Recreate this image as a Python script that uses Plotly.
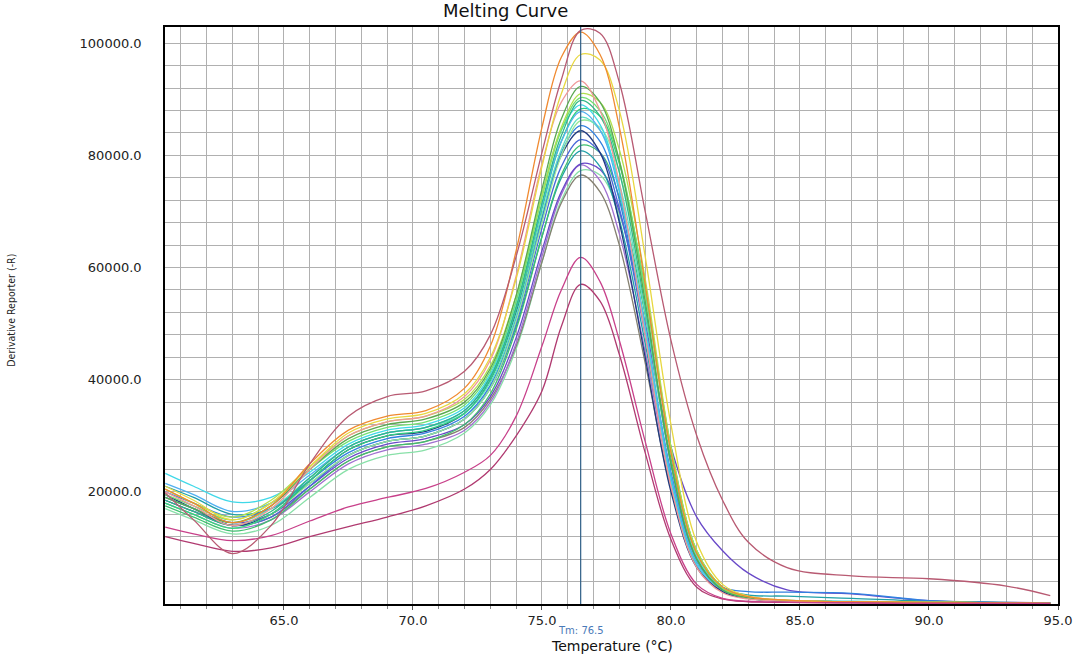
import plotly.graph_objects as go

# Temperature sample points (°C)
TEMPS = [60.4, 61.5, 63.0, 64.5, 66.0, 67.5, 69.0, 70.5, 72.0, 73.0, 74.0, 75.0,
         75.75, 76.5, 77.25, 78.0, 79.0, 80.0, 81.0, 82.0, 83.0, 84.5, 87.0, 90.0,
         93.0, 94.7]

# Derivative reporter values (in thousands)
maroon = [19.8, 15.0, 9.0, 14.0, 25.0, 33.5, 37.0, 38.0, 41.5, 48.0, 62.0, 80.5,
          93.5, 102.3, 101.8, 93.0, 70.0, 47.0, 30.0, 18.5, 11.0, 6.5, 5.0, 4.5, 3.2, 1.5]
orange = [20.5, 18.0, 14.5, 17.5, 25.0, 31.0, 33.5, 34.5, 38.5, 46.0, 63.0, 85.0,
          97.5, 102.0, 98.0, 85.0, 57.0, 27.0, 9.0, 3.0, 1.3, 0.7, 0.4, 0.3, 0.2, 0.1]
yellow = [21.0, 18.5, 15.0, 18.0, 24.5, 30.5, 33.0, 34.0, 37.5, 44.0, 58.0, 78.0,
          91.0, 98.0, 97.0, 88.0, 62.0, 32.0, 11.0, 3.5, 1.4, 0.7, 0.4, 0.3, 0.2, 0.1]
salmon = [20.0, 17.5, 14.0, 17.0, 24.0, 30.0, 32.5, 33.5, 37.0, 43.5, 58.5, 78.5,
          89.5, 93.3, 88.0, 75.0, 48.0, 21.0, 6.5, 2.0, 0.9, 0.5, 0.3, 0.2, 0.1, 0.1]
olive = [19.0, 17.0, 14.5, 17.5, 24.0, 29.5, 32.0, 33.0, 36.0, 42.0, 55.0, 74.0,
         86.5, 92.3, 89.5, 79.0, 54.0, 25.0, 8.0, 2.5, 1.1, 0.6, 0.4, 0.3, 0.2, 0.1]
yellowgreen = [20.5, 18.0, 15.5, 18.5, 24.5, 30.0, 32.5, 33.5, 36.5, 42.5, 55.0, 73.0,
               85.0, 91.0, 89.5, 81.0, 58.0, 28.0, 9.5, 3.0, 1.2, 0.6, 0.4, 0.3, 0.2, 0.1]
lime = [19.5, 17.5, 15.0, 18.0, 24.0, 29.0, 31.5, 32.5, 35.5, 41.5, 54.0, 72.5,
        84.5, 90.3, 88.0, 79.0, 56.0, 27.5, 9.0, 2.8, 1.1, 0.6, 0.4, 0.3, 0.2, 0.1]
tealgreen = [18.5, 16.5, 14.0, 16.5, 22.5, 28.0, 30.5, 31.5, 34.5, 40.5, 53.0, 71.5,
             83.5, 89.8, 87.0, 77.0, 53.0, 25.0, 8.0, 2.5, 1.0, 0.5, 0.3, 0.2, 0.1, 0.1]
cyan = [23.3, 21.0, 18.2, 19.0, 23.5, 28.5, 31.0, 32.0, 35.0, 41.0, 54.0, 73.0,
        84.5, 89.0, 85.5, 74.0, 49.0, 22.0, 7.0, 2.5, 1.2, 0.7, 0.5, 0.3, 0.2, 0.1]
skyblue = [21.5, 19.5, 16.5, 18.0, 23.0, 28.0, 30.5, 31.5, 34.5, 40.5, 53.0, 71.0,
           82.5, 87.8, 84.5, 73.5, 49.5, 23.0, 7.5, 2.5, 1.1, 0.6, 0.4, 0.3, 0.2, 0.1]
springgreen = [18.0, 16.0, 13.5, 16.0, 22.0, 27.5, 30.0, 31.0, 34.0, 40.0, 52.5, 70.5,
               82.5, 88.3, 87.0, 78.5, 56.0, 28.0, 9.5, 3.0, 1.2, 0.6, 0.4, 0.3, 0.2, 0.1]
aquamarine = [19.0, 17.0, 14.5, 17.0, 22.5, 28.0, 30.5, 31.5, 34.0, 39.5, 51.5, 69.5,
              81.0, 86.8, 84.5, 75.0, 52.0, 25.0, 8.5, 2.7, 1.1, 0.6, 0.4, 0.3, 0.2, 0.1]
lightgreen = [18.0, 16.0, 13.5, 16.0, 21.5, 26.5, 29.0, 30.0, 33.0, 38.5, 50.5, 68.0,
              80.0, 86.2, 85.0, 77.0, 55.0, 27.0, 9.5, 3.0, 1.2, 0.6, 0.4, 0.3, 0.2, 0.1]
blue = [20.0, 18.0, 15.5, 17.0, 22.0, 27.0, 29.5, 30.5, 33.5, 39.0, 51.0, 68.5,
        80.5, 85.3, 82.5, 72.0, 49.0, 23.5, 8.0, 3.0, 2.2, 2.1, 1.9, 0.6, 0.2, 0.1]
navy = [19.5, 17.0, 14.0, 16.0, 22.0, 27.5, 30.0, 30.8, 34.0, 40.0, 52.0, 69.0,
        80.0, 84.4, 80.5, 68.0, 44.0, 20.0, 6.5, 2.2, 1.0, 0.6, 0.4, 0.25, 0.15, 0.1]
mediumblue = [18.5, 16.5, 14.0, 15.5, 21.0, 26.5, 29.0, 30.0, 33.0, 38.5, 50.0, 67.0,
              78.0, 82.8, 80.5, 70.5, 48.0, 23.0, 7.8, 2.5, 1.1, 0.6, 0.4, 0.3, 0.2, 0.1]
green = [17.5, 15.5, 13.0, 15.0, 20.5, 25.5, 28.0, 29.0, 32.0, 37.5, 49.0, 65.5,
         76.5, 81.8, 80.5, 72.5, 51.5, 26.0, 9.0, 3.0, 1.2, 0.6, 0.4, 0.3, 0.2, 0.1]
seateal = [21.0, 19.0, 16.0, 17.0, 21.5, 26.5, 29.0, 30.0, 33.0, 38.5, 49.5, 65.5,
           76.0, 80.8, 78.0, 68.5, 46.5, 22.5, 7.5, 2.8, 1.6, 1.4, 1.0, 0.5, 0.3, 0.1]
purple = [19.0, 17.0, 14.5, 16.0, 21.0, 26.0, 28.5, 29.5, 32.0, 37.0, 47.5, 63.0,
          73.5, 78.5, 77.5, 70.0, 50.0, 28.0, 15.5, 9.5, 5.5, 2.5, 1.8, 0.6, 0.3, 0.2]
violet = [18.0, 16.0, 13.5, 15.0, 20.0, 25.0, 27.5, 28.5, 31.0, 36.0, 46.5, 62.0,
          73.0, 78.3, 75.5, 66.0, 45.0, 21.5, 7.0, 2.3, 1.0, 0.5, 0.3, 0.2, 0.1, 0.1]
grayolive = [18.5, 16.5, 14.0, 15.5, 20.5, 25.5, 28.0, 29.0, 31.5, 36.5, 46.0, 61.0,
             71.5, 76.5, 73.5, 64.0, 43.0, 20.5, 6.8, 2.2, 1.0, 0.5, 0.3, 0.2, 0.1, 0.1]
palegreen = [17.0, 15.0, 12.5, 14.0, 19.0, 24.0, 26.5, 27.5, 30.5, 35.5, 45.5, 61.0,
             72.0, 77.3, 76.5, 69.5, 50.0, 25.5, 9.0, 3.0, 1.2, 0.6, 0.4, 0.3, 0.2, 0.1]
pink_a = [13.7, 12.5, 11.3, 12.2, 14.8, 17.3, 19.0, 20.6, 23.5, 26.5, 33.5, 46.0,
          56.0, 61.8, 57.5, 47.0, 29.0, 12.5, 3.5, 1.0, 0.5, 0.3, 0.2, 0.1, 0.1, 0.1]
pink_b = [12.0, 10.8, 9.4, 10.0, 12.0, 13.8, 15.5, 17.5, 20.5, 24.0, 30.0, 38.0,
          49.5, 57.0, 54.0, 44.5, 27.0, 11.5, 3.0, 0.9, 0.4, 0.3, 0.2, 0.1, 0.1, 0.1]

CURVES = [
    (palegreen, "#88e0a8"), (grayolive, "#858070"), (violet, "#a070d0"),
    (purple, "#6848c8"), (seateal, "#20a0a8"), (green, "#40c070"),
    (mediumblue, "#4868d8"), (navy, "#203a80"), (blue, "#3080e0"),
    (lightgreen, "#98e898"), (aquamarine, "#60e0c0"), (springgreen, "#30d080"),
    (skyblue, "#50b0f0"), (cyan, "#40d8e8"), (tealgreen, "#30b888"),
    (lime, "#70e070"), (yellowgreen, "#b0e050"), (olive, "#5aa850"),
    (salmon, "#f09898"), (yellow, "#e8d840"), (orange, "#f08a30"),
    (pink_b, "#b03a70"), (pink_a, "#c8408a"), (maroon, "#b85a72"),
]

TM_VALUE = 76.5
X_TICKS = [65, 70, 75, 80, 85, 90, 95]
Y_TICKS = [20000, 40000, 60000, 80000, 100000]

fig = go.Figure()
for values, color in CURVES:
    fig.add_trace(go.Scatter(
        x=TEMPS, y=[v * 1000 for v in values], mode="lines",
        line=dict(color=color, width=1.3, shape="spline", smoothing=1.0),
        showlegend=False, hoverinfo="skip"))

fig.add_shape(type="line", x0=TM_VALUE, x1=TM_VALUE, y0=0, y1=1, yref="paper",
              line=dict(color="#2f5f86", width=1.2))

grid_col = "#b0b0b0"
fig.update_xaxes(
    range=[60.39, 95.0], tickvals=X_TICKS, ticktext=[f"{t:.1f}" for t in X_TICKS],
    showgrid=True, gridcolor=grid_col, gridwidth=1,
    minor=dict(dtick=1, tick0=60, showgrid=True, gridcolor=grid_col, gridwidth=1,
               ticks="outside", ticklen=3, tickcolor="#888"),
    ticks="outside", ticklen=4, tickcolor="#555",
    showline=True, linecolor="black", linewidth=1.6, mirror=True,
    zeroline=False,
    tickfont=dict(family="DejaVu Sans", size=13, color="#222"),
)
fig.update_yaxes(
    range=[0, 102900], tickvals=Y_TICKS, ticktext=[f"{t:.1f}" for t in Y_TICKS],
    showgrid=True, gridcolor=grid_col, gridwidth=1,
    minor=dict(dtick=4000, tick0=0, showgrid=True, gridcolor=grid_col, gridwidth=1),
    ticks="", ticklabelstandoff=19,
    showline=True, linecolor="black", linewidth=1.6, mirror=True,
    zeroline=False,
    tickfont=dict(family="DejaVu Sans", size=13, color="#222"),
)

# Title, Tm label and axis titles
fig.add_annotation(text="Melting Curve", x=0.381, xref="paper", y=1, yref="paper",
                   yshift=4, yanchor="bottom", showarrow=False,
                   font=dict(family="DejaVu Sans", size=18, color="#111"))
fig.add_annotation(text=f"Tm: {TM_VALUE}", x=TM_VALUE, xref="x", y=0, yref="paper",
                   yshift=-26, yanchor="middle", showarrow=False,
                   font=dict(family="DejaVu Sans", size=10, color="#4a7ab8"))
fig.add_annotation(text="Temperature (°C)", x=0.5, xref="paper", y=0, yref="paper",
                   yshift=-42, yanchor="middle", showarrow=False,
                   font=dict(family="DejaVu Sans", size=14, color="#111"))
fig.add_annotation(text="Derivative Reporter (-R)", x=-0.1725, xref="paper",
                   xanchor="center", y=0.51, yref="paper",
                   showarrow=False, textangle=-90,
                   font=dict(family="DejaVu Sans Condensed, DejaVu Sans", size=10.5,
                             color="#222"))

fig.update_layout(
    width=1090, height=658,
    margin=dict(l=165, r=32, t=27, b=54),
    plot_bgcolor="white", paper_bgcolor="white",
)

fig.write_html("out.html")
